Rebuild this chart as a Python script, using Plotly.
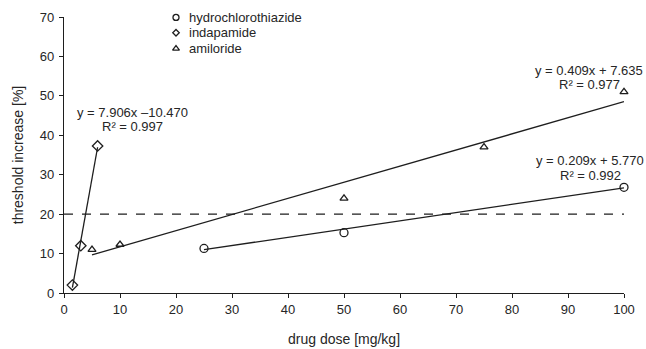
import plotly.graph_objects as go

# Dose-response data (drug dose in mg/kg, threshold increase in %)
hct_dose = [25, 50, 100]
hct_resp = [11.3, 15.3, 26.8]

ind_dose = [1.5, 3, 6]
ind_resp = [2.0, 12.0, 37.3]

ami_dose = [5, 10, 50, 75, 100]
ami_resp = [11.0, 12.3, 24.0, 37.0, 51.0]

# Linear trendline coefficients (slope, intercept, R²)
hct_fit = (0.209, 5.770, 0.992)
ind_fit = (7.906, -10.470, 0.997)
ami_fit = (0.409, 7.635, 0.977)

threshold = 20

series_names = ["hydrochlorothiazide", "indapamide", "amiloride"]

INK = "#1e1e1e"
TXT = "#262626"
FONT = "Liberation Sans, Arial, sans-serif"

# compact key in the upper-left part of the plot (axis units)
KEY_X = 20.0
KEY_TEXT_X = 21.9
KEY_Y = [69.9, 66.0, 62.0]

fig = go.Figure()


def add_series(name, xs, ys, symbol, size, key_size, key_y):
    fig.add_trace(go.Scatter(
        x=xs, y=ys, mode="markers", name=name, showlegend=False,
        marker=dict(symbol=symbol, size=size, color=INK,
                    line=dict(color=INK, width=1.3)),
        cliponaxis=False,
    ))
    # key symbol + label
    fig.add_trace(go.Scatter(
        x=[KEY_X], y=[key_y], mode="markers", showlegend=False,
        hoverinfo="skip", cliponaxis=False,
        marker=dict(symbol=symbol, size=key_size, color=INK,
                    line=dict(color=INK, width=1.3)),
    ))
    fig.add_annotation(x=KEY_TEXT_X, y=key_y, text=name, showarrow=False,
                       xanchor="left", yanchor="middle",
                       font=dict(size=13, color=TXT, family=FONT))


def add_fit(xs, fit):
    slope, intercept, _ = fit
    x0, x1 = min(xs), max(xs)
    fig.add_trace(go.Scatter(
        x=[x0, x1], y=[slope * x0 + intercept, slope * x1 + intercept],
        mode="lines", line=dict(color=INK, width=1.3),
        showlegend=False, hoverinfo="skip", cliponaxis=False,
    ))


add_fit(hct_dose, hct_fit)
add_fit(ind_dose, ind_fit)
add_fit(ami_dose, ami_fit)

add_series(series_names[0], hct_dose, hct_resp, "circle-open", 8, 6, KEY_Y[0])
add_series(series_names[1], ind_dose, ind_resp, "diamond-open", 8, 5, KEY_Y[1])
add_series(series_names[2], ami_dose, ami_resp, "triangle-up-open", 7, 6, KEY_Y[2])

fig.add_hline(y=threshold, line=dict(color=INK, width=1.2, dash="dash"))


def fit_label(fit, xc, y1, y2):
    slope, intercept, r2 = fit
    sign = "+ " if intercept >= 0 else "\u2013"
    eq = f"y = {slope:.3f}x {sign}{abs(intercept):.3f}"
    for txt, yy in ((eq, y1), (f"R\u00b2 = {r2:.3f}", y2)):
        fig.add_annotation(x=xc, y=yy, text=txt, showarrow=False,
                           xanchor="center", yanchor="middle",
                           font=dict(size=13, color=TXT, family=FONT))


fit_label(ind_fit, 12.3, 45.8, 42.2)
fit_label(ami_fit, 93.8, 56.4, 52.8)
fit_label(hct_fit, 94.0, 33.6, 29.9)

axis_common = dict(
    showline=True, linecolor=INK, linewidth=1.2,
    ticks="outside", ticklen=4, tickwidth=1.2, tickcolor=INK,
    showgrid=False, zeroline=False, automargin=False,
    tickfont=dict(size=13, color=TXT, family=FONT),
)

fig.update_xaxes(range=[0, 100], dtick=10, tick0=0,
                 title=dict(text="drug dose [mg/kg]", standoff=18,
                            font=dict(size=14, color=TXT, family=FONT)),
                 **axis_common)
fig.update_yaxes(range=[0, 70], dtick=10, tick0=0, ticklabelstandoff=2,
                 title=dict(text="threshold increase [%]", standoff=12,
                            font=dict(size=14, color=TXT, family=FONT)),
                 **axis_common)

fig.update_layout(
    width=646, height=349,
    margin=dict(l=64, r=22, t=17, b=56),
    paper_bgcolor="white", plot_bgcolor="white",
    font=dict(family=FONT, size=13, color=TXT),
    showlegend=False,
)

fig.write_html("out.html")
